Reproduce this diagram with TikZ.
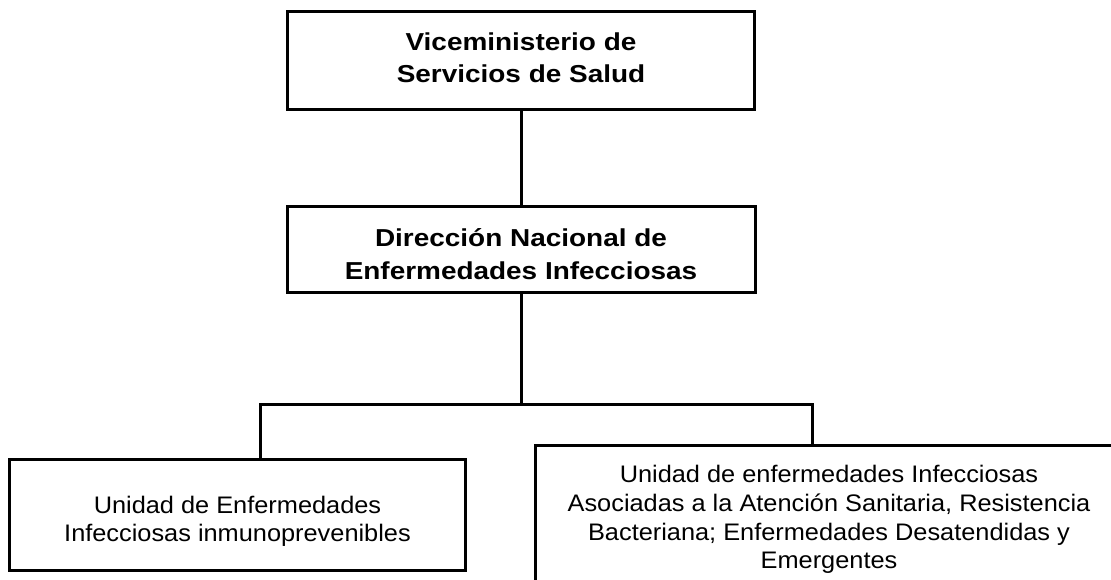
\documentclass[tikz,border=0pt]{standalone}
\usepackage{fontspec}
\setmainfont{Liberation Sans}
\newfontfamily\unitfont[FakeStretch=1.06]{Liberation Sans}
\newfontfamily\headfont[FakeStretch=1.14]{Liberation Sans}
\usetikzlibrary{calc}
\tikzset{
  unitbox/.style={draw,line width=3bp,align=center,inner sep=0pt,
    font=\unitfont\fontsize{24}{29}\selectfont},
  headbox/.style={unitbox,font=\headfont\fontsize{24.6}{32.5}\selectfont\bfseries},
  link/.style={line width=3bp}
}

\begin{document}
\begin{tikzpicture}[x=1bp,y=-1bp]
  \useasboundingbox (0,0) rectangle (1111,580);
  \clip (0,0) rectangle (1111,580);

  \node [headbox,minimum width=467bp,minimum height=98bp] (vice) at (521,61)
    {Viceministerio de\\Servicios de Salud\rule[-7bp]{0pt}{7bp}};

  \node [headbox,minimum width=468bp,minimum height=85bp] (dnei) at (521,249.5)
    {\rule{0pt}{27bp}Dirección Nacional de\\Enfermedades Infecciosas};

  \node [unitbox,minimum width=455bp,minimum height=111bp] (inmuno) at (237.5,515)
    {\rule{0pt}{30bp}Unidad de Enfermedades\\Infecciosas inmunoprevenibles};

  \node [unitbox,minimum width=588bp,minimum height=148bp] (iaas) at (829,519.4)
    {Unidad de enfermedades Infecciosas\\Asociadas a la Atención Sanitaria, Resistencia\\Bacteriana; Enfermedades Desatendidas y\\Emergentes};

  \coordinate (split) at (521,404);
  \coordinate (jl) at (260,404);
  \coordinate (jr) at (812,404);

  \draw [link] (vice) -- (dnei);
  \draw [link] (dnei) -- (split);
  \draw [link] (jl |- inmuno.north) -- (jl) -- (jr) -- (jr |- iaas.north);

\end{tikzpicture}
\end{document}
